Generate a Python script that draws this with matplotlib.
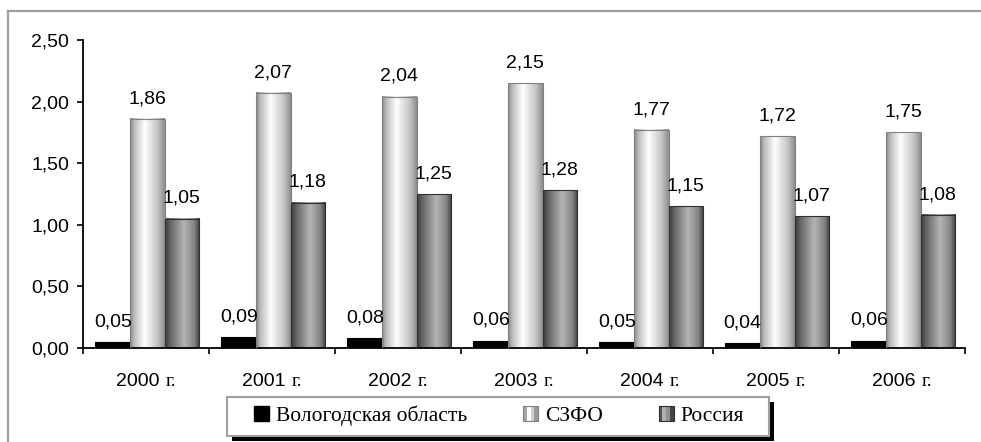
import numpy as np
import matplotlib
matplotlib.use("Agg")
import matplotlib.pyplot as plt
from matplotlib.colors import LinearSegmentedColormap
from matplotlib.patches import Rectangle
from matplotlib.lines import Line2D
from matplotlib.legend_handler import HandlerBase
from matplotlib.ticker import FuncFormatter
from matplotlib.offsetbox import TextArea, HPacker, AnnotationBbox

years = ["2000 г.", "2001 г.", "2002 г.", "2003 г.", "2004 г.", "2005 г.", "2006 г."]
vologda = [0.05, 0.09, 0.08, 0.06, 0.05, 0.04, 0.06]
szfo = [1.86, 2.07, 2.04, 2.15, 1.77, 1.72, 1.75]
russia = [1.05, 1.18, 1.25, 1.28, 1.15, 1.07, 1.08]
series_names = ["Вологодская область", "СЗФО", "Россия"]

SANS = ["Liberation Sans", "DejaVu Sans"]
SERIF = ["Liberation Serif", "DejaVu Serif"]
FS = 14
plt.rcParams["font.family"] = SANS

fig = plt.figure(figsize=(9.81, 4.42), dpi=100)
ax = fig.add_axes([83/981, 94/442, (965-83)/981, (348-40)/442])

cm_szfo = LinearSegmentedColormap.from_list(
    "szfo", [(0, "#8a8a8a"), (0.12, "#bdbdbd"), (0.42, "#ffffff"), (0.8, "#c4c4c4"), (1, "#8e8e8e")])
cm_rus = LinearSegmentedColormap.from_list(
    "rus", [(0, "#3a3a3a"), (0.15, "#666666"), (0.55, "#b4b4b4"), (0.85, "#848484"), (1, "#3e3e3e")])

x = np.arange(len(years))
bw = 0.274
grad = np.linspace(0, 1, 64)[np.newaxis, :]

def draw_series(vals, offset, cmap, edge, solid=None):
    bars = ax.bar(x + offset, vals, width=bw, facecolor=solid if solid else "none",
                  edgecolor=edge, linewidth=0.8, zorder=3)
    if cmap is not None:
        for p in bars:
            x0, w, h = p.get_x(), p.get_width(), p.get_height()
            ax.imshow(grad, extent=(x0, x0 + w, 0, h), aspect="auto", cmap=cmap,
                      zorder=2, interpolation="bilinear")
    for p, v in zip(bars, vals):
        ax.annotate(f"{v:.2f}".replace(".", ","), (p.get_x() + p.get_width()/2, v),
                    xytext=(0, 8.5), textcoords="offset points", ha="center", va="bottom",
                    fontsize=FS, family=SANS, zorder=5)
    return bars

draw_series(vologda, -bw + 0.01, None, "black", solid="black")
draw_series(szfo, 0.01, cm_szfo, "#808080")
draw_series(russia, bw + 0.01, cm_rus, "#303030")

ax.set_xlim(-0.5, len(years) - 0.5)
ax.set_ylim(0, 2.5)
ax.set_yticks(np.arange(0, 2.51, 0.5))
ax.yaxis.set_major_formatter(FuncFormatter(lambda v, p: f"{v:.2f}".replace(".", ",")))
ax.set_xticks(x)
ax.set_xticklabels([])
ax.set_xticks(np.arange(-0.5, len(years)), minor=True)
ax.tick_params(axis="x", which="major", length=0)
ax.tick_params(axis="x", which="minor", length=4, width=1.2, direction="out")
ax.tick_params(axis="y", length=4, width=1.2, pad=6, labelsize=FS)
for s in ["top", "right"]:
    ax.spines[s].set_visible(False)
for s in ["left", "bottom"]:
    ax.spines[s].set_linewidth(1.3)

# category labels: number in sans, "г." in serif
for xi, lab in zip(x, years):
    num, suf = lab.split(" ")
    pack = HPacker(children=[TextArea(num, textprops=dict(family=SANS, size=FS)),
                             TextArea(suf, textprops=dict(family=SERIF, size=FS))],
                   align="baseline", pad=0, sep=4)
    ab = AnnotationBbox(pack, (xi, 0), xybox=(0, -18), xycoords=("data", "axes fraction"),
                        boxcoords="offset points", box_alignment=(0.5, 1), frameon=False,
                        annotation_clip=False)
    ax.add_artist(ab)

# legend
class GradHandler(HandlerBase):
    def __init__(self, colors, edge):
        super().__init__()
        self.colors = colors
        self.edge = edge
    def create_artists(self, legend, orig_handle, xdescent, ydescent, width, height, fontsize, trans):
        arts = []
        n = len(self.colors)
        w = width / n
        for i, c in enumerate(self.colors):
            arts.append(Rectangle((-xdescent + i*w, -ydescent), w, height, facecolor=c,
                                  edgecolor="none", transform=trans))
        arts.append(Rectangle((-xdescent, -ydescent), width, height, facecolor="none",
                              edgecolor=self.edge, linewidth=0.8, transform=trans))
        return arts

h1 = Rectangle((0, 0), 1, 1, facecolor="black", edgecolor="black")
h2 = Rectangle((0, 0), 1, 1)
h3 = Rectangle((0, 0), 1, 1)
leg = fig.legend([h1, h2, h3], series_names, loc="center", bbox_to_anchor=(499/981, 1 - 416/442),
                 ncol=3, frameon=False,
                 prop={"family": SERIF, "size": 15.5}, handlelength=0.7, handleheight=0.7,
                 handletextpad=0.3, columnspacing=2.6, borderpad=0.0,
                 handler_map={h2: GradHandler(["#a8a8a8", "#ffffff", "#d0d0d0", "#9a9a9a"], "#808080"),
                              h3: GradHandler(["#555555", "#b0b0b0", "#909090", "#444444"], "#303030")})
leg.set_zorder(11)

fig.canvas.draw()
bb = leg.get_window_extent()
W, H = fig.bbox.width, fig.bbox.height
pad_l, pad_r = 27, 25
x0 = bb.x0 - pad_l
wid = bb.width + pad_l + pad_r
y0 = (442 - 436)
hgt = 436 - 397
fig.add_artist(Rectangle(((x0 + 5)/W, (y0 - 5)/H), wid/W, hgt/H, transform=fig.transFigure,
                         facecolor="black", edgecolor="none", zorder=9))
fig.add_artist(Rectangle((x0/W, y0/H), wid/W, hgt/H, transform=fig.transFigure,
                         facecolor="white", edgecolor="#a0a0a0", linewidth=1.5, zorder=10))

# outer frame (cut at right and bottom)
fig.add_artist(Line2D([8/981, 8/981], [0, 1 - 11/442], transform=fig.transFigure, color="#a0a0a0", lw=1.6))
fig.add_artist(Line2D([8/981, 1], [1 - 11/442, 1 - 11/442], transform=fig.transFigure, color="#a0a0a0", lw=1.6))

fig.savefig("out.png", dpi=100)
